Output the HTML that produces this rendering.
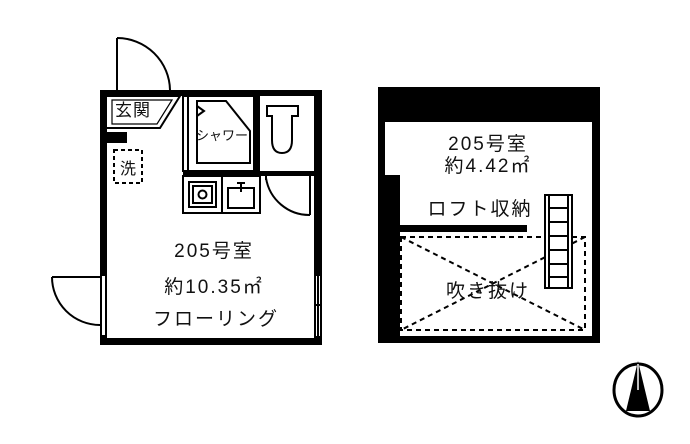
<!DOCTYPE html>
<html><head><meta charset="utf-8"><style>
html,body{margin:0;padding:0;background:#fff;}
svg{display:block}
text{font-family:"Liberation Sans","Noto Sans CJK JP",sans-serif;fill:#111;}
</style></head><body>
<svg width="690" height="444" viewBox="0 0 690 444" xmlns="http://www.w3.org/2000/svg">
<rect width="690" height="444" fill="#fff"/>
<g stroke="#000" fill="none" stroke-width="2">
<line x1="117" y1="38" x2="117" y2="90"/>
<path d="M117 38 A53 53 0 0 1 170 90"/>
<line x1="52" y1="277" x2="100" y2="277"/>
<path d="M52 277 A48 48 0 0 0 100 325"/>
</g>
<g fill="#000">
<rect x="100" y="90" width="222" height="6"/>
<rect x="100" y="90" width="7" height="185"/>
<rect x="100" y="335" width="7" height="10"/>
<rect x="100" y="338" width="222" height="7"/>
<rect x="314" y="90" width="8" height="185"/>
<rect x="107" y="132" width="20" height="11"/>
<rect x="254" y="96" width="6" height="80"/>
<rect x="183" y="171" width="131" height="5"/>
</g>
<g stroke="#000" fill="none" stroke-width="2">
<rect x="101" y="275" width="5" height="62"/>
<rect x="315" y="275" width="6" height="62"/>
<line x1="318" y1="275" x2="318" y2="337"/>
<line x1="315" y1="305" x2="321" y2="305"/>
<path d="M107 96 H180 L160 128 H107"/>
<path d="M112 100 H172 L157 124 H112 Z" stroke-width="1.2"/>
<rect x="114" y="150" width="28" height="33" stroke-dasharray="4 3"/>
<rect x="183" y="96" width="71" height="75"/>
<line x1="188" y1="96" x2="188" y2="171"/>
<path d="M197 101 H226 L250 131 V163 H197 Z"/>
<path d="M197 106 L204 111 L197 116"/>
<path d="M267 106 H298 V116 H292 V140 Q292 153 282 153 Q272 153 272 140 V116 H267 Z"/>
<rect x="183" y="176" width="39" height="37"/>
<rect x="222" y="176" width="38" height="37"/>
<rect x="189" y="182" width="27" height="25"/>
<rect x="193" y="186" width="19" height="17"/>
<circle cx="202.5" cy="194.5" r="4"/>
<rect x="228" y="188" width="26" height="20"/>
<line x1="241" y1="182" x2="241" y2="192"/>
<line x1="237" y1="183" x2="245" y2="183"/>
<line x1="266" y1="176" x2="266" y2="180"/>
<path d="M266 178 A44 44 0 0 0 310 215"/>
<line x1="310" y1="176" x2="310" y2="215"/>
</g>
<g font-size="19" letter-spacing="2">
<text x="214" y="257" text-anchor="middle">205号室</text>
<text x="214" y="293" text-anchor="middle">約10.35㎡</text>
<text x="216" y="325" text-anchor="middle">フローリング</text>
</g>
<text x="133" y="116" font-size="17" text-anchor="middle" letter-spacing="1">玄関</text>
<text x="128" y="174" font-size="16" text-anchor="middle">洗</text>
<text x="222" y="140" font-size="13" text-anchor="middle">シャワー</text>

<g fill="#000">
<rect x="378" y="87" width="222" height="35"/>
<rect x="378" y="87" width="7" height="256"/>
<rect x="378" y="175" width="22" height="168"/>
<rect x="592" y="87" width="8" height="256"/>
<rect x="378" y="336" width="222" height="7"/>
<rect x="400" y="225" width="127" height="7"/>
</g>
<g stroke="#000" fill="none" stroke-width="2" stroke-dasharray="5 4">
<rect x="401" y="237" width="184" height="93"/>
<line x1="401" y1="237" x2="585" y2="330"/>
<line x1="585" y1="237" x2="401" y2="330"/>
</g>
<g stroke="#000" stroke-width="2">
<rect x="545" y="195" width="27" height="93" fill="#fff"/>
<rect x="549" y="195" width="19" height="93" fill="#fff"/>
<line x1="549" y1="208" x2="568" y2="208"/>
<line x1="549" y1="222" x2="568" y2="222"/>
<line x1="549" y1="236" x2="568" y2="236"/>
<line x1="549" y1="250" x2="568" y2="250"/>
<line x1="549" y1="264" x2="568" y2="264"/>
<line x1="549" y1="277" x2="568" y2="277"/>
</g>
<g font-size="19" letter-spacing="2">
<text x="488" y="150" text-anchor="middle">205号室</text>
<text x="488" y="172" text-anchor="middle">約4.42㎡</text>
<text x="480" y="215" text-anchor="middle">ロフト収納</text>
<text x="488" y="297" text-anchor="middle">吹き抜け</text>
</g>
<ellipse cx="638" cy="390" rx="24" ry="26" fill="none" stroke="#000" stroke-width="3"/>
<path d="M638 361 L650 411 L626 411 Z" fill="#000"/>
<line x1="638" y1="364" x2="638" y2="390" stroke="#fff" stroke-width="1.5"/>
</svg>
</body></html>
